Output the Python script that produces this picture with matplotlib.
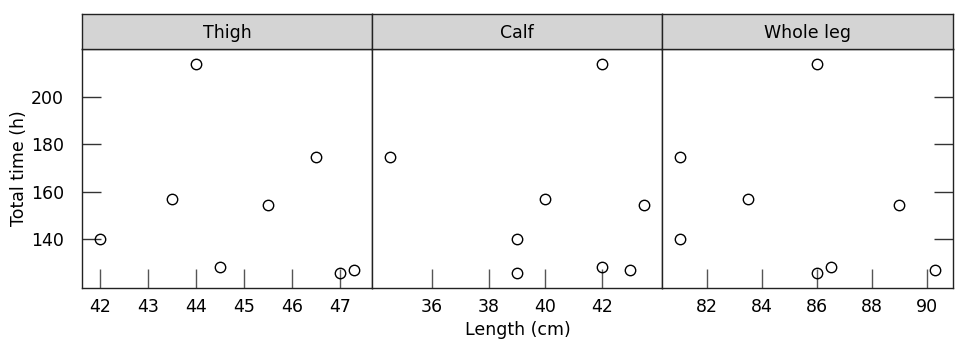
import numpy as np
import matplotlib.pyplot as plt

plt.rcParams['font.family'] = ['DejaVu Sans']

total_time = [140, 157, 214, 128, 154.5, 174.5, 125.5, 127]
thigh = [42, 43.5, 44, 44.5, 45.5, 46.5, 47, 47.3]
calf = [39, 40, 42, 42, 43.5, 34.5, 39, 43]
whole_leg = [81, 83.5, 86, 86.5, 89, 81, 86, 90.3]

panel_names = ["Thigh", "Calf", "Whole leg"]
panel_x = [thigh, calf, whole_leg]
x_ticks = [[42, 43, 44, 45, 46, 47], [36, 38, 40, 42], [82, 84, 86, 88, 90]]
y_ticks = [140, 160, 180, 200]

W, H = 955, 343
fig = plt.figure(figsize=(W / 100, H / 100), dpi=100)

left, right = 82, 953
bottom, top, strip_top = 288, 49, 14
bounds = [82, 372, 662, 953]

def pad7(v):
    lo, hi = min(v), max(v)
    d = (hi - lo) * 0.07
    return lo - d, hi + d

ylim = pad7(total_time)
fs = 12.5

for i in range(3):
    x0 = bounds[i] / W
    w = (bounds[i + 1] - bounds[i]) / W
    ax = fig.add_axes([x0, 1 - bottom / H, w, (bottom - top) / H])
    ax.plot(panel_x[i], total_time, "o", mfc="none", mec="black", ms=7.5, mew=1.0)
    ax.set_xlim(pad7(panel_x[i]))
    ax.set_ylim(ylim)
    ax.set_xticks(x_ticks[i])
    ax.tick_params(axis="x", direction="in", length=14, width=1, color="#555555",
                   labelsize=fs, pad=7)
    ax.set_yticks(y_ticks)
    if i == 0:
        ax.tick_params(axis="y", direction="in", length=14, width=1, color="#333333",
                       labelsize=fs, pad=13, left=True, right=False)
    elif i == 2:
        ax.tick_params(axis="y", direction="in", length=14, width=1, color="#333333",
                       left=False, right=True, labelleft=False)
    else:
        ax.tick_params(axis="y", left=False, labelleft=False)
    for s in ax.spines.values():
        s.set_color("#222222")
        s.set_linewidth(1)

    sax = fig.add_axes([x0, 1 - top / H, w, (top - strip_top) / H])
    sax.set_facecolor("#d4d4d4")
    sax.set_xticks([])
    sax.set_yticks([])
    for s in sax.spines.values():
        s.set_color("#222222")
        s.set_linewidth(1)
    sax.text(0.5, 0.45, panel_names[i], ha="center", va="center",
             fontsize=fs, transform=sax.transAxes)

fig.text((left + right) / 2 / W, 1 - 330 / H, "Length (cm)", ha="center", va="center",
         fontsize=fs)
fig.text(19 / W, 1 - 168 / H, "Total time (h)", ha="center", va="center",
         rotation=90, fontsize=fs)

fig.savefig("out.png", dpi=100)
